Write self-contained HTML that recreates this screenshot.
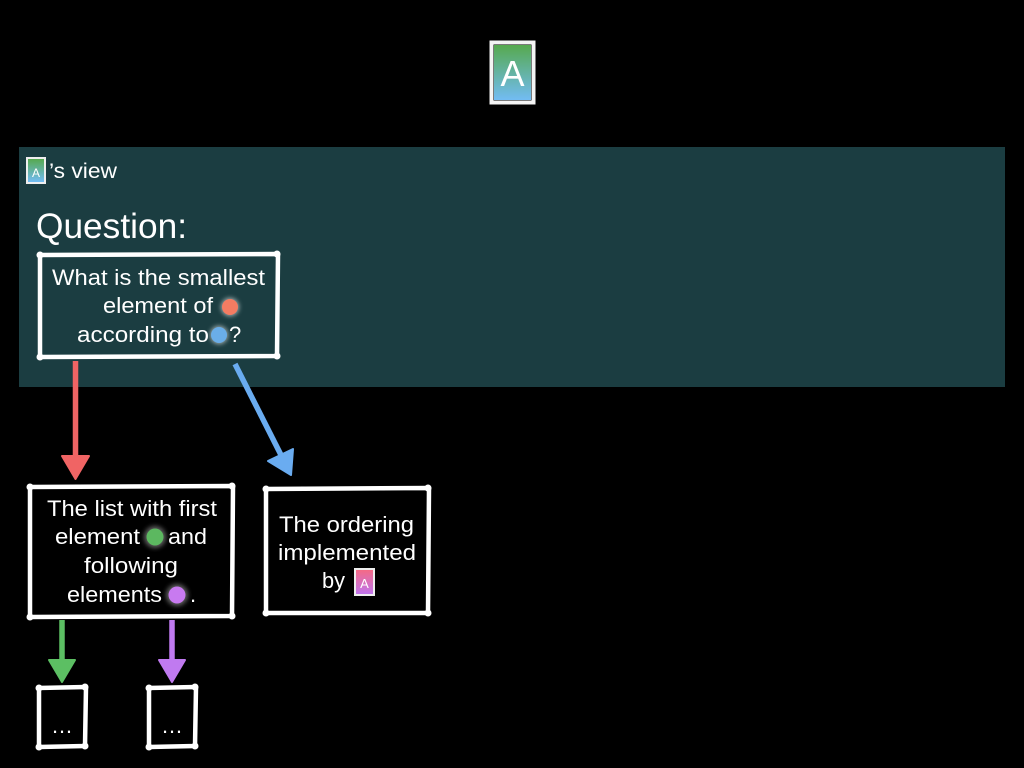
<!DOCTYPE html>
<html><head><meta charset="utf-8"><style>
html,body{margin:0;padding:0;background:#000;width:1024px;height:768px;overflow:hidden}
svg{display:block}
text{font-family:"Liberation Sans",sans-serif;fill:#fff}
</style></head><body>
<svg width="1024" height="768" viewBox="0 0 1024 768" xmlns="http://www.w3.org/2000/svg">
<defs>
<linearGradient id="ga" x1="0" y1="0" x2="0" y2="1"><stop offset="0" stop-color="#56a94f"/><stop offset="1" stop-color="#72bcf4"/></linearGradient>
<linearGradient id="gp" x1="0" y1="0" x2="0" y2="1"><stop offset="0" stop-color="#f46a86"/><stop offset="1" stop-color="#c074ec"/></linearGradient>
<filter id="blur" x="-1" y="-1" width="3" height="3"><feGaussianBlur stdDeviation="2.5"/></filter>
</defs>
<rect width="1024" height="768" fill="#000"/>
<!-- panel -->
<rect x="19" y="147" width="986" height="240" fill="#1b3d41"/>

<!-- big A card -->
<rect x="491.5" y="42.5" width="42" height="60" fill="none" stroke="#f4f4f4" stroke-width="4"/>
<rect x="494" y="45" width="37" height="55" fill="url(#ga)"/>
<text x="512.5" y="86" font-size="36" text-anchor="middle">A</text>

<!-- small A icon -->
<rect x="27" y="158" width="18" height="25" fill="none" stroke="#eee" stroke-width="2"/>
<rect x="28" y="159" width="16" height="23" fill="url(#ga)"/>
<text x="36" y="177" font-size="12" text-anchor="middle">A</text>
<text x="49" y="178" font-size="21" textLength="68" lengthAdjust="spacingAndGlyphs">’s view</text>

<text x="36" y="238" font-size="35" textLength="151" lengthAdjust="spacingAndGlyphs">Question:</text>

<!-- question box -->
<g stroke="#fff" stroke-width="4.5" stroke-linecap="round" fill="none">
<path d="M39 255 L278 254 M278 254 L277 356 M277 356 L40 357 M40 357 L40 255"/>
</g>
<g fill="#fff"><circle cx="40" cy="255" r="3.5"/><circle cx="277" cy="254" r="3.5"/><circle cx="277" cy="356" r="3.5"/><circle cx="40" cy="357" r="3.5"/></g>
<text x="52" y="285" font-size="22" textLength="213" lengthAdjust="spacingAndGlyphs">What is the smallest</text>
<text x="103" y="313" font-size="22" textLength="110" lengthAdjust="spacingAndGlyphs">element of</text>
<circle cx="230" cy="307" r="9" fill="#fff" opacity="0.6" filter="url(#blur)"/>
<circle cx="230" cy="307" r="8" fill="#f47c62"/>
<text x="77" y="342" font-size="22" textLength="132" lengthAdjust="spacingAndGlyphs">according to</text>
<circle cx="219" cy="335" r="9" fill="#fff" opacity="0.6" filter="url(#blur)"/>
<circle cx="219" cy="335" r="8" fill="#6aaee8"/>
<text x="229" y="342" font-size="22">?</text>

<!-- red arrow -->
<line x1="75.5" y1="361" x2="75.5" y2="458" stroke="#f06464" stroke-width="5.5"/>
<polygon points="62,456 89,456 75.5,479" fill="#f06464" stroke="#f06464" stroke-width="2" stroke-linejoin="round"/>

<!-- blue arrow -->
<line x1="235" y1="364" x2="281" y2="455" stroke="#6aacf0" stroke-width="5.5"/>
<polygon points="268,461 293,449 291,475" fill="#6aacf0" stroke="#6aacf0" stroke-width="2" stroke-linejoin="round"/>

<!-- list / ordering boxes -->
<g stroke="#fff" stroke-width="4.5" stroke-linecap="round" fill="none">
<path d="M29 487 L233 486 M233 486 L232 616 M232 616 L30 617 M30 617 L30 487"/>
<path d="M265 489 L429 488 M429 488 L428 613 M428 613 L266 613 M266 613 L266 489"/>
</g>
<g fill="#fff">
<circle cx="30" cy="487" r="3.5"/><circle cx="232" cy="486" r="3.5"/><circle cx="232" cy="616" r="3.5"/><circle cx="30" cy="617" r="3.5"/>
<circle cx="266" cy="489" r="3.5"/><circle cx="428" cy="488" r="3.5"/><circle cx="428" cy="613" r="3.5"/><circle cx="266" cy="613" r="3.5"/>
</g>
<text x="47" y="516" font-size="22" textLength="170" lengthAdjust="spacingAndGlyphs">The list with first</text>
<text x="55" y="544" font-size="22" textLength="85" lengthAdjust="spacingAndGlyphs">element</text>
<circle cx="155" cy="537" r="11" fill="#777" opacity="0.8" filter="url(#blur)"/>
<circle cx="155" cy="537" r="8.5" fill="#5cb860"/>
<text x="168" y="544" font-size="22" textLength="39" lengthAdjust="spacingAndGlyphs">and</text>
<text x="84" y="573" font-size="22" textLength="94" lengthAdjust="spacingAndGlyphs">following</text>
<text x="67" y="602" font-size="22" textLength="95" lengthAdjust="spacingAndGlyphs">elements</text>
<circle cx="177" cy="595" r="11" fill="#777" opacity="0.8" filter="url(#blur)"/>
<circle cx="177" cy="595" r="8.5" fill="#c87af0"/>
<text x="190" y="602" font-size="22">.</text>

<text x="279" y="532" font-size="22" textLength="135" lengthAdjust="spacingAndGlyphs">The ordering</text>
<text x="278" y="560" font-size="22" textLength="138" lengthAdjust="spacingAndGlyphs">implemented</text>
<text x="322" y="588" font-size="22" textLength="23" lengthAdjust="spacingAndGlyphs">by</text>
<rect x="355" y="569" width="19" height="26" fill="none" stroke="#eee" stroke-width="2"/>
<rect x="356" y="570" width="17" height="24" fill="url(#gp)"/>
<text x="364.5" y="588" font-size="13" text-anchor="middle">A</text>

<!-- green / purple arrows -->
<line x1="62" y1="620" x2="62" y2="662" stroke="#5cbf63" stroke-width="5.5"/>
<polygon points="49,660 75,660 62,682" fill="#5cbf63" stroke="#5cbf63" stroke-width="2" stroke-linejoin="round"/>
<line x1="172" y1="620" x2="172" y2="662" stroke="#c07af0" stroke-width="5.5"/>
<polygon points="159,660 185,660 172,682" fill="#c07af0" stroke="#c07af0" stroke-width="2" stroke-linejoin="round"/>

<!-- small boxes -->
<g stroke="#fff" stroke-width="4.5" stroke-linecap="round" fill="none">
<path d="M38 688 L86 687 M86 687 L85 746 M85 746 L39 747 M39 747 L39 688"/>
<path d="M148 688 L196 687 M196 687 L195 746 M195 746 L149 747 M149 747 L149 688"/>
</g>
<g fill="#fff">
<circle cx="39" cy="688" r="3.5"/><circle cx="85" cy="687" r="3.5"/><circle cx="85" cy="746" r="3.5"/><circle cx="39" cy="747" r="3.5"/>
<circle cx="149" cy="688" r="3.5"/><circle cx="195" cy="687" r="3.5"/><circle cx="195" cy="746" r="3.5"/><circle cx="149" cy="747" r="3.5"/>
</g>
<text x="62" y="733" font-size="22" text-anchor="middle">…</text>
<text x="172" y="733" font-size="22" text-anchor="middle">…</text>
</svg>
</body></html>
